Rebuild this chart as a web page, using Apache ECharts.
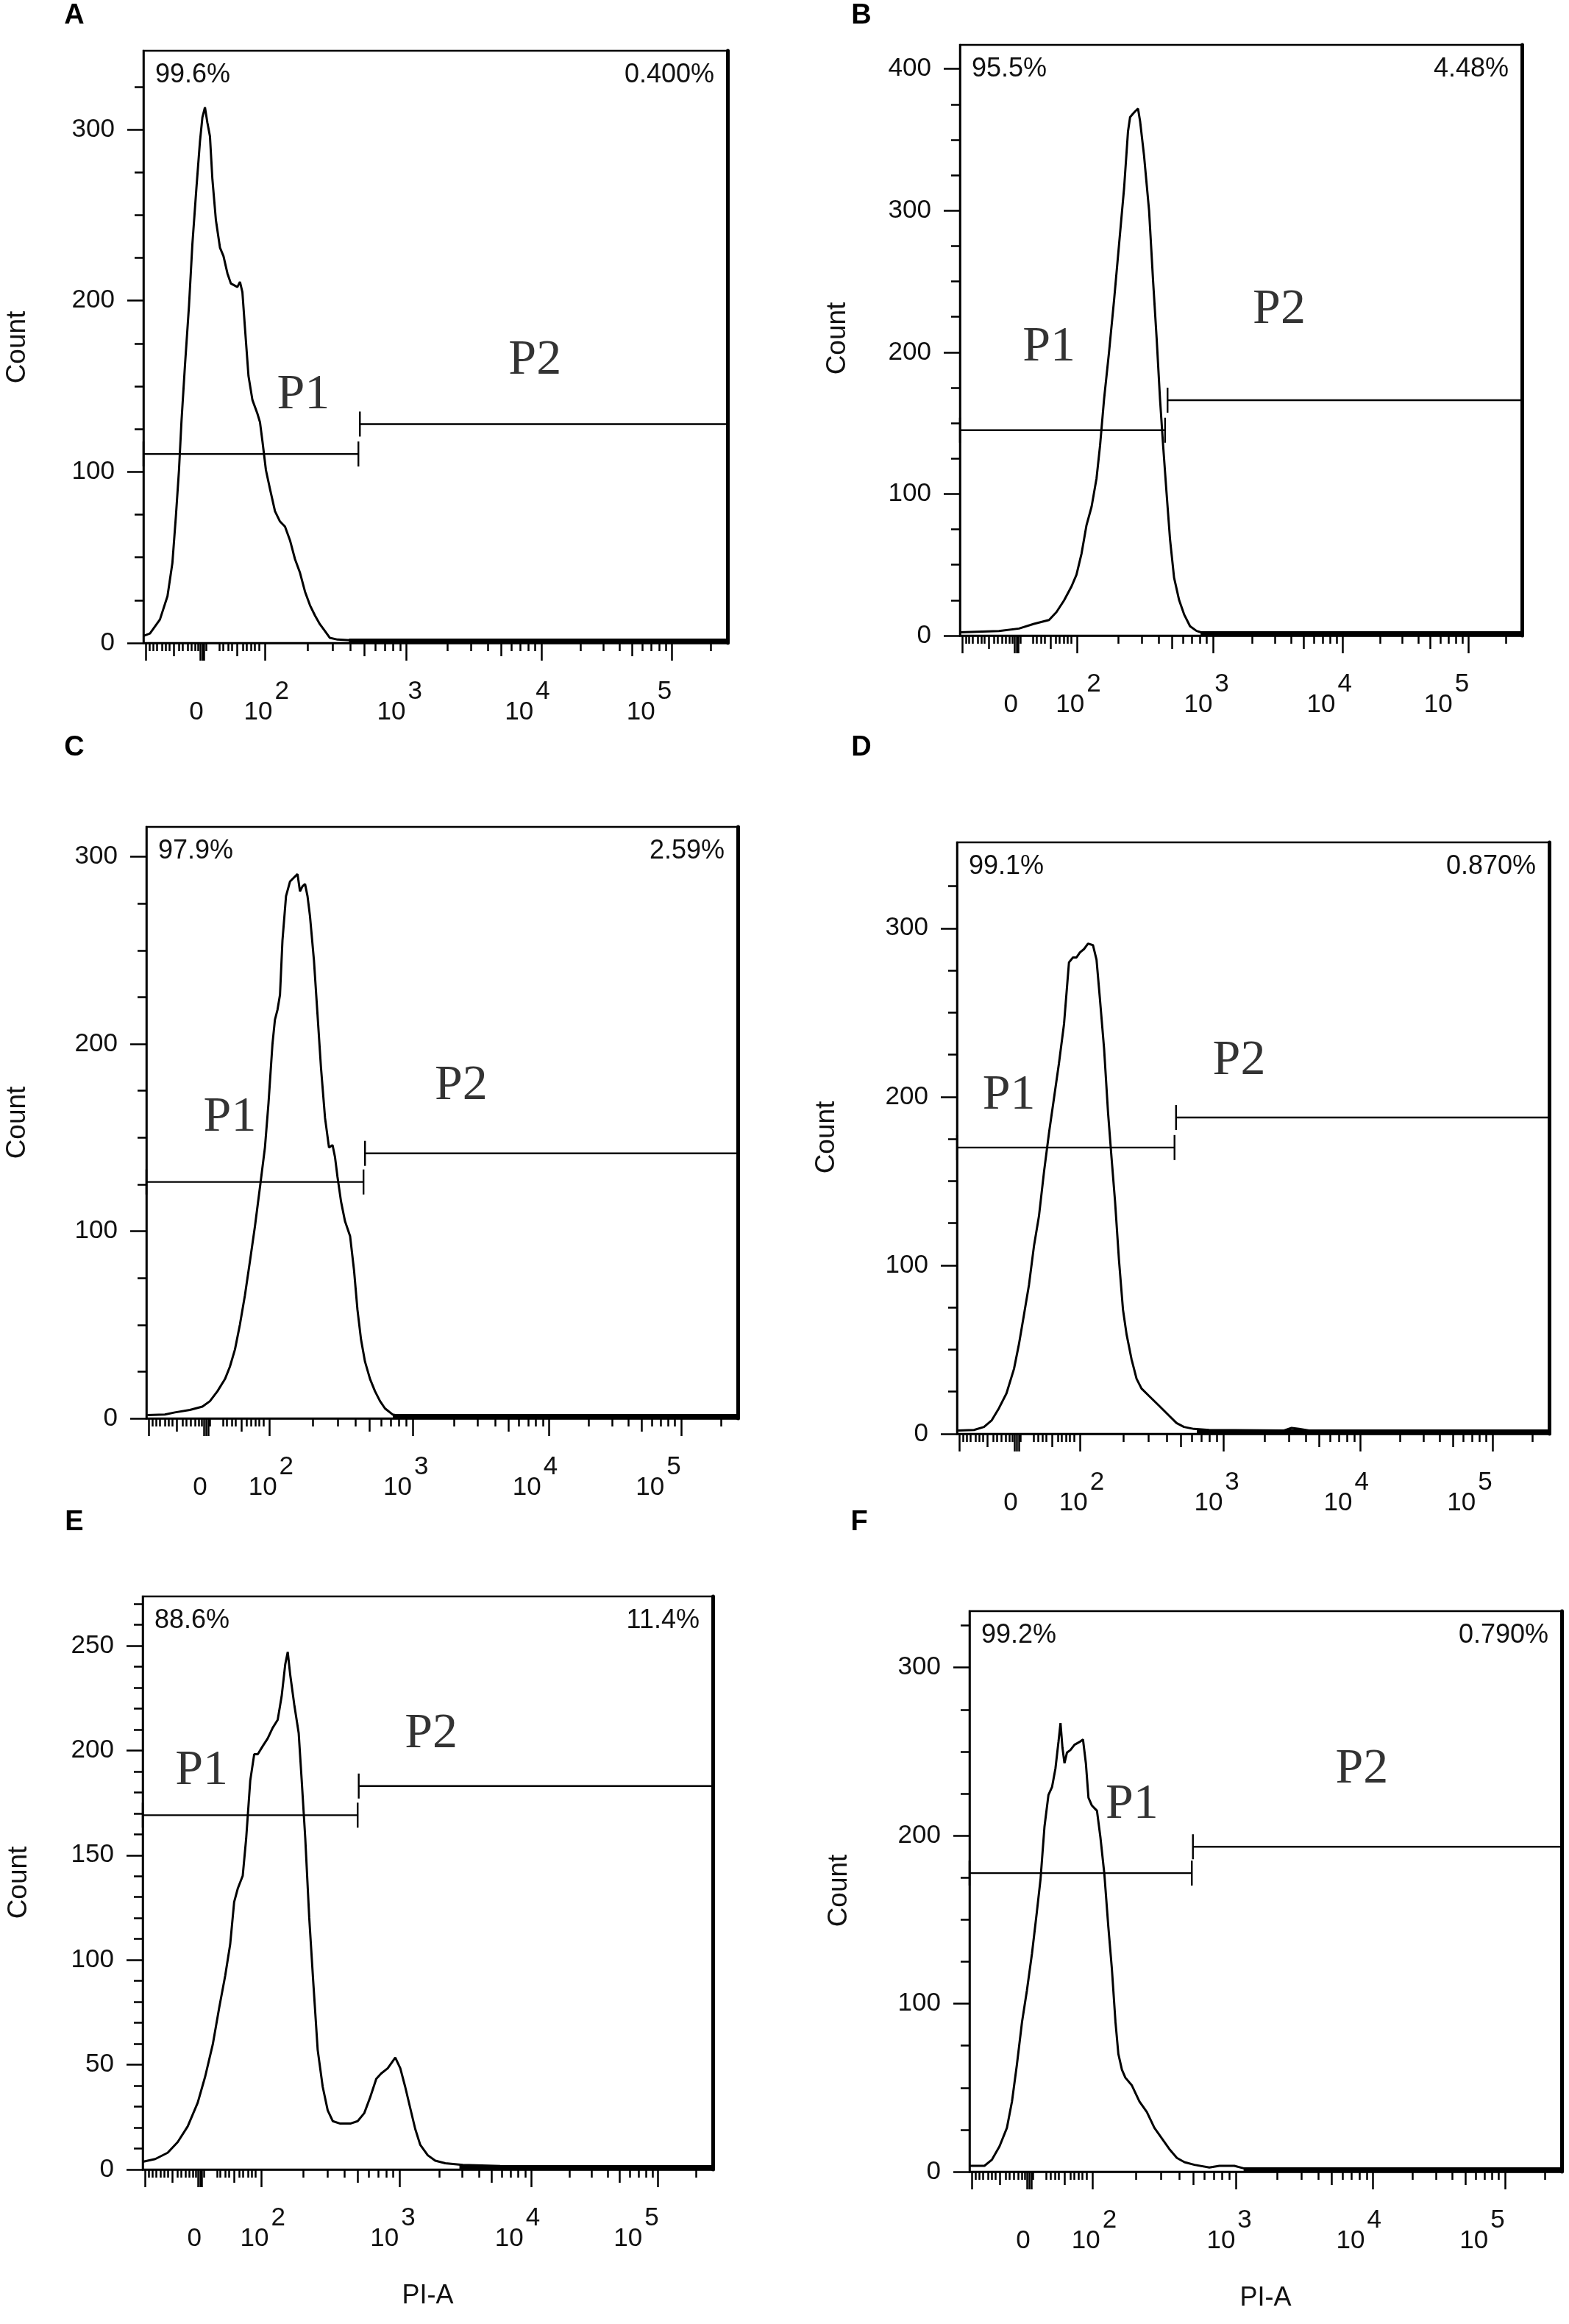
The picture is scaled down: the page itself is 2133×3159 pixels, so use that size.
<!DOCTYPE html>
<html>
<head>
<meta charset="utf-8">
<script src="https://cdn.jsdelivr.net/npm/echarts@6/dist/echarts.min.js"></script>
<style>
html,body{margin:0;padding:0;background:#ffffff;}
#chart{width:2133px;height:3159px;}
</style>
</head>
<body>
<div id="chart"></div>
<script>
// ---------------- axis definitions (display units: 10^2 ~ 2, 10^3 ~ 3 ...) ----------------
const X_MIN = 1.1, X_MAX = 5.42;
const X_LABEL_POS = [1.5, 2.01, 2.995, 3.94, 4.84];
const X_LABELS = ['0', '10^2', '10^3', '10^4', '10^5'];
const X_DECADES = [2.0, 3.046, 4.043, 5.006];
const X_LONG_EXTRA = [1.118, 1.52, 1.535, 1.55];
const X_LOW_MED = [1.323, 1.795];
const X_LOW_SHORT = [1.145,1.172,1.2,1.236,1.263,1.29,1.363,1.39,1.426,1.454,1.481,1.505,1.565,1.662,1.689,1.726,1.753,1.834,1.862,1.898,1.925,1.953];

// ---------------- panel A ----------------
const A_U = [1.100,1.148,1.222,1.278,1.314,1.340,1.363,1.381,1.407,1.437,1.462,1.492,1.518,1.536,1.555,1.573,1.592,1.610,1.636,1.666,1.692,1.721,1.747,1.795,1.814,1.832,1.851,1.877,1.906,1.943,1.962,1.980,2.006,2.036,2.073,2.110,2.147,2.184,2.221,2.258,2.295,2.332,2.369,2.405,2.442,2.479,2.535,2.627,2.8,5.42];
const A_C = [4.1,5.5,13.7,27.4,46.6,74,101,129,162,197,233,266,293,307,313,304,296,271,247,231,226,216,210,208,211,205,184,156,142,134,129,118,101,90,77,71,68,60,49,41,30,22,16,11,7,3,2,1.6,1.2,1.2];
const A_Y_MAJOR = [0,100,200,300];
const A_PCT = ['99.6%','0.400%'];
const A_GATES = [[1.1,2.690,110.4],[2.701,5.42,127.9]];
const A_PLABELS = [[2.283,144.7,'P1'],[3.996,164.9,'P2']];
const A_BAND = [[2.62,5.42,0]];

// ---------------- panel B ----------------
const B_U = [1.10,1.40,1.554,1.669,1.785,1.842,1.9,1.958,1.996,2.035,2.073,2.112,2.15,2.177,2.208,2.246,2.285,2.323,2.362,2.392,2.408,2.427,2.446,2.469,2.485,2.515,2.554,2.585,2.612,2.638,2.662,2.688,2.715,2.746,2.785,2.823,2.869,2.919,2.977,5.42];
const B_C = [2.3,3.3,5,8.3,11,16.6,24.8,34.8,43,58,78,91,111,134,167,200,237,276,316,356,366,368,370,372,363,339,300,250,210,167,134,101,68,41,25,15,6.6,3.3,1.7,1.5];
const B_Y_MAJOR = [0,100,200,300,400];
const B_PCT = ['95.5%','4.48%'];
const B_GATES = [[1.1,2.677,145],[2.696,5.42,166.2]];
const B_PLABELS = [[1.785,203.6,'P1'],[3.554,230.1,'P2']];
const B_BAND = [[2.95,5.42,0]];

// ---------------- panel C ----------------
const C_U = [1.107,1.235,1.308,1.418,1.509,1.564,1.619,1.674,1.710,1.747,1.783,1.820,1.857,1.893,1.930,1.966,1.992,2.021,2.039,2.058,2.076,2.094,2.120,2.149,2.186,2.204,2.222,2.240,2.259,2.277,2.295,2.324,2.350,2.376,2.405,2.434,2.460,2.478,2.496,2.522,2.551,2.588,2.617,2.642,2.668,2.697,2.734,2.770,2.807,2.843,2.898,2.953,5.42];
const C_C = [1.8,2.1,3.2,4.5,6.3,9.2,14.5,21,27.6,36.8,50,65.8,84.2,102.6,123.7,144.7,168.4,200,213,218.4,226.3,255.3,279,286.8,289.5,290.8,281.6,284.2,285.5,279,268.4,244.7,215.8,186.8,160.5,144.7,146,139.5,129,115.8,105.3,97.4,79,57.9,42.1,30.3,21,14.5,9.2,5.3,2.1,1.3,1.2];
const C_Y_MAJOR = [0,100,200,300];
const C_PCT = ['97.9%','2.59%'];
const C_GATES = [[1.1,2.686,126.3],[2.697,5.42,141.6]];
const C_PLABELS = [[1.710,160.5,'P1'],[3.399,177.6,'P2']];
const C_BAND = [[2.9,5.42,0]];

// ---------------- panel D ----------------
const D_U = [1.107,1.224,1.297,1.352,1.406,1.461,1.516,1.552,1.589,1.625,1.662,1.698,1.735,1.772,1.808,1.844,1.881,1.917,1.946,1.972,1.997,2.027,2.056,2.092,2.118,2.143,2.173,2.202,2.227,2.253,2.282,2.311,2.337,2.373,2.410,2.446,2.501,2.574,2.647,2.702,2.756,2.829,2.939,3.486,3.541,3.595,3.668,5.42];
const D_C = [2,2.3,4.1,7.9,15.2,24,38.6,53.2,70.8,88.3,111.7,129.2,155.6,179,199.4,219.9,243.3,279.8,282.7,282.7,285.7,287.7,290.9,290,281.3,257.9,228.7,190.6,164.3,138,102.9,73.7,59.1,44.4,32.7,26.9,22.5,16.7,10.8,6.4,4.1,2.9,2.3,2,3.5,2.9,2,1.5];
const D_Y_MAJOR = [0,100,200,300];
const D_PCT = ['99.1%','0.870%'];
const D_GATES = [[1.1,2.687,169.9],[2.698,5.42,187.7]];
const D_PLABELS = [[1.479,200.9,'P1'],[3.158,221.3,'P2']];
const D_BAND = [[2.85,5.42,0]];

// ---------------- panel E ----------------
const E_U = [1.100,1.195,1.289,1.365,1.441,1.517,1.574,1.631,1.680,1.725,1.763,1.793,1.820,1.858,1.884,1.915,1.945,1.972,2.009,2.047,2.085,2.123,2.153,2.180,2.199,2.218,2.248,2.282,2.305,2.332,2.362,2.392,2.426,2.464,2.502,2.540,2.597,2.673,2.729,2.779,2.824,2.870,2.907,2.957,3.014,3.052,3.089,3.127,3.165,3.203,3.260,3.317,3.393,3.525,3.809,5.42];
const E_C = [3.7,5.0,8.0,13.1,20.6,31.9,44.5,59.7,77.3,92.4,107.5,127.7,134.0,140.2,157.9,185.6,198.2,198.2,202.0,205.7,210.8,214.6,225.9,241.0,247,236.0,222.1,208.3,185.6,157.9,120.1,89.9,57.1,39.5,28.2,23.1,21.9,21.9,23.1,26.9,34.5,43.3,45.8,48.3,53.4,48.3,39.5,29.4,19.4,11.8,6.8,4.2,3.0,2.2,1.7,1.5];
const E_Y_MAJOR = [0,50,100,150,200,250];
const E_PCT = ['88.6%','11.4%'];
const E_GATES = [[1.1,2.729,169.1],[2.737,5.42,183]];
const E_PLABELS = [[1.547,190.1,'P1'],[3.286,207.8,'P2']];
const E_BAND = [[3.5,5.42,0]];

// ---------------- panel F ----------------
const F_U = [1.100,1.209,1.264,1.319,1.373,1.410,1.446,1.483,1.519,1.556,1.592,1.618,1.647,1.676,1.702,1.727,1.749,1.764,1.778,1.793,1.811,1.836,1.866,1.902,1.928,1.949,1.968,1.993,2.030,2.055,2.084,2.113,2.139,2.165,2.186,2.212,2.237,2.285,2.340,2.394,2.449,2.504,2.558,2.613,2.668,2.741,2.850,2.923,3.032,3.105,3.397,5.42];
const F_C = [3.5,3.5,7.2,15.1,26.1,41.8,63.8,89,107.9,129.9,155,173.9,205.3,224.2,228.9,239.9,255.7,267,252.5,243.1,249.4,250.9,254.1,255.7,257.2,243.1,222.6,217.9,214.8,199.1,177,145.6,120.4,89,70.1,60.7,56,51.3,41.8,35.5,26.1,19.8,13.5,8.2,5.7,4.1,2.5,3.5,3.5,1.9,1.6,1.5];
const F_Y_MAJOR = [0,100,200,300];
const F_PCT = ['99.2%','0.790%'];
const F_GATES = [[1.1,2.722,177.7],[2.730,5.42,193.4]];
const F_PLABELS = [[2.285,218.6,'P1'],[3.962,239.3,'P2']];
const F_BAND = [[3.1,5.42,0]];

// ---------------- layout / style ----------------
const FONT = '"Liberation Sans", Arial, sans-serif';
const PANELS = [
  {letter:'A', grid:{left:195,top:69,width:794,height:805},  yMax:346, yMajor:A_Y_MAJOR, yMinorStep:25, u:A_U, c:A_C, pct:A_PCT, gates:A_GATES, plabels:A_PLABELS, band:A_BAND, letterPos:[101,22],   countPos:[24,472],   xName:false},
  {letter:'B', grid:{left:1305,top:61,width:764,height:803}, yMax:417, yMajor:B_Y_MAJOR, yMinorStep:25, u:B_U, c:B_C, pct:B_PCT, gates:B_GATES, plabels:B_PLABELS, band:B_BAND, letterPos:[1171,22],  countPos:[1139,460], xName:false},
  {letter:'C', grid:{left:199,top:1124,width:804,height:804},yMax:316, yMajor:C_Y_MAJOR, yMinorStep:25, u:C_U, c:C_C, pct:C_PCT, gates:C_GATES, plabels:C_PLABELS, band:C_BAND, letterPos:[101,1017], countPos:[24,1526], xName:false},
  {letter:'D', grid:{left:1301,top:1145,width:805,height:804},yMax:351, yMajor:D_Y_MAJOR, yMinorStep:25, u:D_U, c:D_C, pct:D_PCT, gates:D_GATES, plabels:D_PLABELS, band:D_BAND, letterPos:[1171,1017],countPos:[1124,1546],xName:false},
  {letter:'E', grid:{left:194,top:2170,width:775,height:779},yMax:273.5, yMajor:E_Y_MAJOR, yMinorStep:10, u:E_U, c:E_C, pct:E_PCT, gates:E_GATES, plabels:E_PLABELS, band:E_BAND, letterPos:[101,2070], countPos:[26,2559], xName:true},
  {letter:'F', grid:{left:1318,top:2190,width:805,height:762},yMax:333.6, yMajor:F_Y_MAJOR, yMinorStep:25, u:F_U, c:F_C, pct:F_PCT, gates:F_GATES, plabels:F_PLABELS, band:F_BAND, letterPos:[1168,2070],countPos:[1141,2570],xName:true}
];

// x tick positions (log-spaced minor ticks inside each decade)
const X_LONG = X_LONG_EXTRA.concat(X_DECADES);
const X_MED = X_LOW_MED.slice();
const X_SHORT = X_LOW_SHORT.slice();
X_DECADES.forEach(function (start, i) {
  const span = i < X_DECADES.length - 1 ? X_DECADES[i + 1] - start : start - X_DECADES[i - 1];
  for (let k = 2; k <= 9; k++) {
    const p = start + Math.log10(k) * span;
    if (p >= X_MAX) continue;
    if (k === 5) X_MED.push(p); else X_SHORT.push(p);
  }
});

const RICH = {
  b: {fontSize: 35, lineHeight: 35, fontFamily: FONT, color: '#111', verticalAlign: 'bottom'},
  s: {fontSize: 35, lineHeight: 63, fontFamily: FONT, color: '#111', verticalAlign: 'top', padding: [0, 0, 0, 3]}
};
function xLabelFormatter(v) {
  let best = 0;
  X_LABEL_POS.forEach(function (p, i) { if (Math.abs(p - v) < Math.abs(X_LABEL_POS[best] - v)) best = i; });
  const t = X_LABELS[best];
  if (t.indexOf('^') >= 0) {
    const parts = t.split('^');
    return '{b|' + parts[0] + '}{s|' + parts[1] + '}';
  }
  return '{b|' + t + '}{s|}';
}

function renderGate(params, api) {
  const x0 = api.value(0), x1 = api.value(1), y = api.value(2);
  const p0 = api.coord([x0, y]), p1 = api.coord([x1, y]);
  const h = 17;
  const st = {stroke: '#000', lineWidth: 2.4, fill: null};
  return {type: 'group', children: [
    {type: 'line', shape: {x1: p0[0], y1: p0[1], x2: p1[0], y2: p1[1]}, style: st},
    {type: 'line', shape: {x1: p0[0], y1: p0[1] - h, x2: p0[0], y2: p0[1] + h}, style: st},
    {type: 'line', shape: {x1: p1[0], y1: p1[1] - h, x2: p1[0], y2: p1[1] + h}, style: st}
  ]};
}
function renderBand(params, api) {
  const a = api.coord([api.value(0), api.value(2)]);
  const b = api.coord([api.value(1), api.value(2)]);
  return {type: 'rect', shape: {x: a[0], y: a[1] - 6, width: b[0] - a[0], height: 6}, style: {fill: '#000'}};
}

const grids = [], xAxes = [], yAxes = [], series = [], graphics = [];
PANELS.forEach(function (p, i) {
  grids.push(Object.assign({show: true, borderColor: '#000', borderWidth: 2.5, backgroundColor: 'transparent', containLabel: false}, p.grid));

  const xi = xAxes.length;
  const baseX = {gridIndex: i, type: 'value', min: X_MIN, max: X_MAX, position: 'bottom', splitLine: {show: false}};
  xAxes.push(Object.assign({}, baseX, {
    axisLine: {show: true, onZero: false, lineStyle: {color: '#000', width: 2.5}},
    axisTick: {show: true, customValues: X_LONG, length: 24, lineStyle: {color: '#000', width: 2.5}},
    axisLabel: {show: true, customValues: X_LABEL_POS, margin: 49, formatter: xLabelFormatter, rich: RICH, fontFamily: FONT, fontSize: 35, color: '#111'}
  }));
  xAxes.push(Object.assign({}, baseX, {
    axisLine: {show: false},
    axisTick: {show: true, customValues: X_MED, length: 18, lineStyle: {color: '#000', width: 2.5}},
    axisLabel: {show: false}
  }));
  xAxes.push(Object.assign({}, baseX, {
    axisLine: {show: false},
    axisTick: {show: true, customValues: X_SHORT, length: 11, lineStyle: {color: '#000', width: 2.5}},
    axisLabel: {show: false}
  }));

  const yi = yAxes.length;
  const minors = [];
  for (let v = p.yMinorStep; v < p.yMax - 3; v += p.yMinorStep) {
    if (p.yMajor.indexOf(v) < 0) minors.push(v);
  }
  const baseY = {gridIndex: i, type: 'value', min: 0, max: p.yMax, splitLine: {show: false}};
  yAxes.push(Object.assign({}, baseY, {
    position: 'left',
    axisLine: {show: true, onZero: false, lineStyle: {color: '#000', width: 2.5}},
    axisTick: {show: true, customValues: p.yMajor, length: 22, lineStyle: {color: '#000', width: 2.5}},
    axisLabel: {show: true, customValues: p.yMajor, margin: 39, fontFamily: FONT, fontSize: 35, color: '#111'}
  }));
  yAxes.push(Object.assign({}, baseY, {
    position: 'left',
    axisLine: {show: false},
    axisTick: {show: true, customValues: minors, length: 12, lineStyle: {color: '#000', width: 2.5}},
    axisLabel: {show: false}
  }));
  yAxes.push(Object.assign({}, baseY, {
    position: 'right',
    axisLine: {show: true, onZero: false, lineStyle: {color: '#000', width: 5}},
    axisTick: {show: false},
    axisLabel: {show: false}
  }));

  series.push({
    type: 'line', xAxisIndex: xi, yAxisIndex: yi, silent: true, animation: false,
    showSymbol: false, symbol: 'none', clip: true, z: 3,
    lineStyle: {color: '#000', width: 3},
    data: p.u.map(function (u, k) { return [u, p.c[k]]; })
  });
  series.push({
    type: 'custom', xAxisIndex: xi, yAxisIndex: yi, silent: true, animation: false, z: 3,
    renderItem: renderBand, encode: {x: [0, 1], y: 2}, data: p.band
  });
  series.push({
    type: 'custom', xAxisIndex: xi, yAxisIndex: yi, silent: true, animation: false, z: 4,
    renderItem: renderGate, encode: {x: [0, 1], y: 2}, data: p.gates
  });
  series.push({
    type: 'scatter', xAxisIndex: xi, yAxisIndex: yi, silent: true, animation: false, z: 5,
    symbolSize: 1, itemStyle: {color: 'rgba(0,0,0,0)'},
    label: {show: true, position: 'inside', formatter: function (d) { return d.data[2]; },
      fontFamily: '"Liberation Serif", "Times New Roman", serif', fontSize: 68, color: '#000'},
    data: p.plabels
  });

  // panel letter
  graphics.push({type: 'text', x: p.letterPos[0], y: p.letterPos[1], silent: true,
    style: {text: p.letter, font: 'bold 38px "Liberation Sans", Arial, sans-serif', fill: '#000',
      textAlign: 'center', textVerticalAlign: 'middle', align: 'center', verticalAlign: 'middle'}});
  // Count
  graphics.push({type: 'text', x: p.countPos[0], y: p.countPos[1], rotation: Math.PI / 2, silent: true,
    style: {text: 'Count', font: '37px ' + FONT, fill: '#111',
      textAlign: 'center', textVerticalAlign: 'middle', align: 'center', verticalAlign: 'middle'}});
  // percentages
  const g = p.grid;
  graphics.push({type: 'text', x: g.left + 16, y: g.top + 33, silent: true,
    style: {text: p.pct[0], font: '36px ' + FONT, fill: '#111',
      textAlign: 'left', textVerticalAlign: 'middle', align: 'left', verticalAlign: 'middle'}});
  graphics.push({type: 'text', x: g.left + g.width - 18, y: g.top + 33, silent: true,
    style: {text: p.pct[1], font: '36px ' + FONT, fill: '#111',
      textAlign: 'right', textVerticalAlign: 'middle', align: 'right', verticalAlign: 'middle'}});
  if (p.xName) {
    graphics.push({type: 'text', x: g.left + g.width / 2, y: g.top + g.height + 172, silent: true,
      style: {text: 'PI-A', font: '36px ' + FONT, fill: '#111',
        textAlign: 'center', textVerticalAlign: 'middle', align: 'center', verticalAlign: 'middle'}});
  }
});

const chart = echarts.init(document.getElementById('chart'), null, {renderer: 'canvas'});
chart.setOption({
  backgroundColor: '#ffffff',
  animation: false,
  grid: grids,
  xAxis: xAxes,
  yAxis: yAxes,
  series: series,
  graphic: graphics
});
</script>
</body>
</html>
